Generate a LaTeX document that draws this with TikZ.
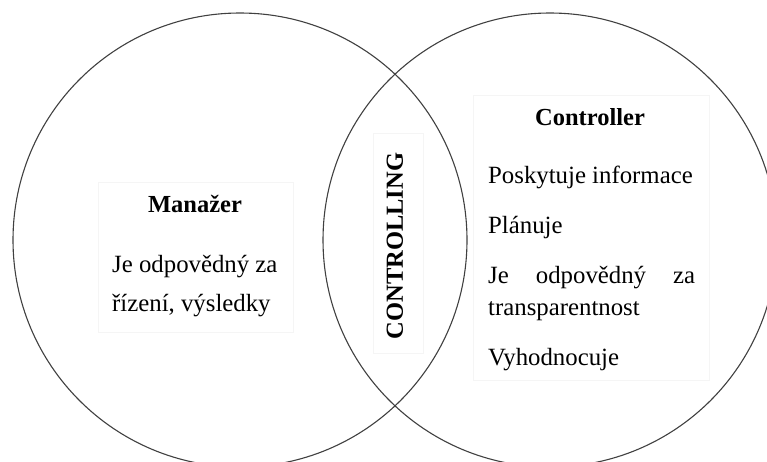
\documentclass[tikz,border=0pt]{standalone}
\usepackage{fontspec}
\setmainfont{Liberation Serif}
\begin{document}
\begin{tikzpicture}[
    x=1pt,
    y=-1pt,
    kruh/.style={
        draw=black!75,
        line width=1.1pt
    },
    ramec/.style={
        draw=black!4,
        line width=0.6pt
    },
    nadpis/.style={
        anchor=base,
        inner sep=0pt,
        font=\fontsize{24.5}{30}\selectfont\bfseries
    },
    radek/.style={
        anchor=base west,
        inner sep=0pt,
        font=\fontsize{24.8}{30}\selectfont
    }
]

\useasboundingbox (0,0) rectangle (767,461);
\clip (0,0) rectangle (767,461);

\draw[ramec] (98,182) rectangle (293,332);
\draw[ramec] (373,133) rectangle (423,353);
\draw[ramec] (473,95) rectangle (709,380);

\draw[kruh] (240,240) circle (227pt);
\draw[kruh] (550,240) circle (227pt);

\node[nadpis] (manazer) at (195,212) {Manažer};
\node[radek] (manodp) at (112,272) {Je odpovědný za};
\node[radek] (manriz) at (112,311) {řízení, výsledky};

\node[nadpis, anchor=center, rotate=90] (controlling) at (395,246) {CONTROLLING};

\node[nadpis] (controller) at (590,125) {Controller};
\node[radek] (posk) at (488,183) {Poskytuje informace};
\node[radek] (plan) at (488,233) {Plánuje};
\node[radek] (odp) at (488,283) {\makebox[207pt][s]{Je odpovědný za}};
\node[radek] (transp) at (488,315) {transparentnost};
\node[radek] (vyhod) at (488,365) {Vyhodnocuje};

\end{tikzpicture}
\end{document}
